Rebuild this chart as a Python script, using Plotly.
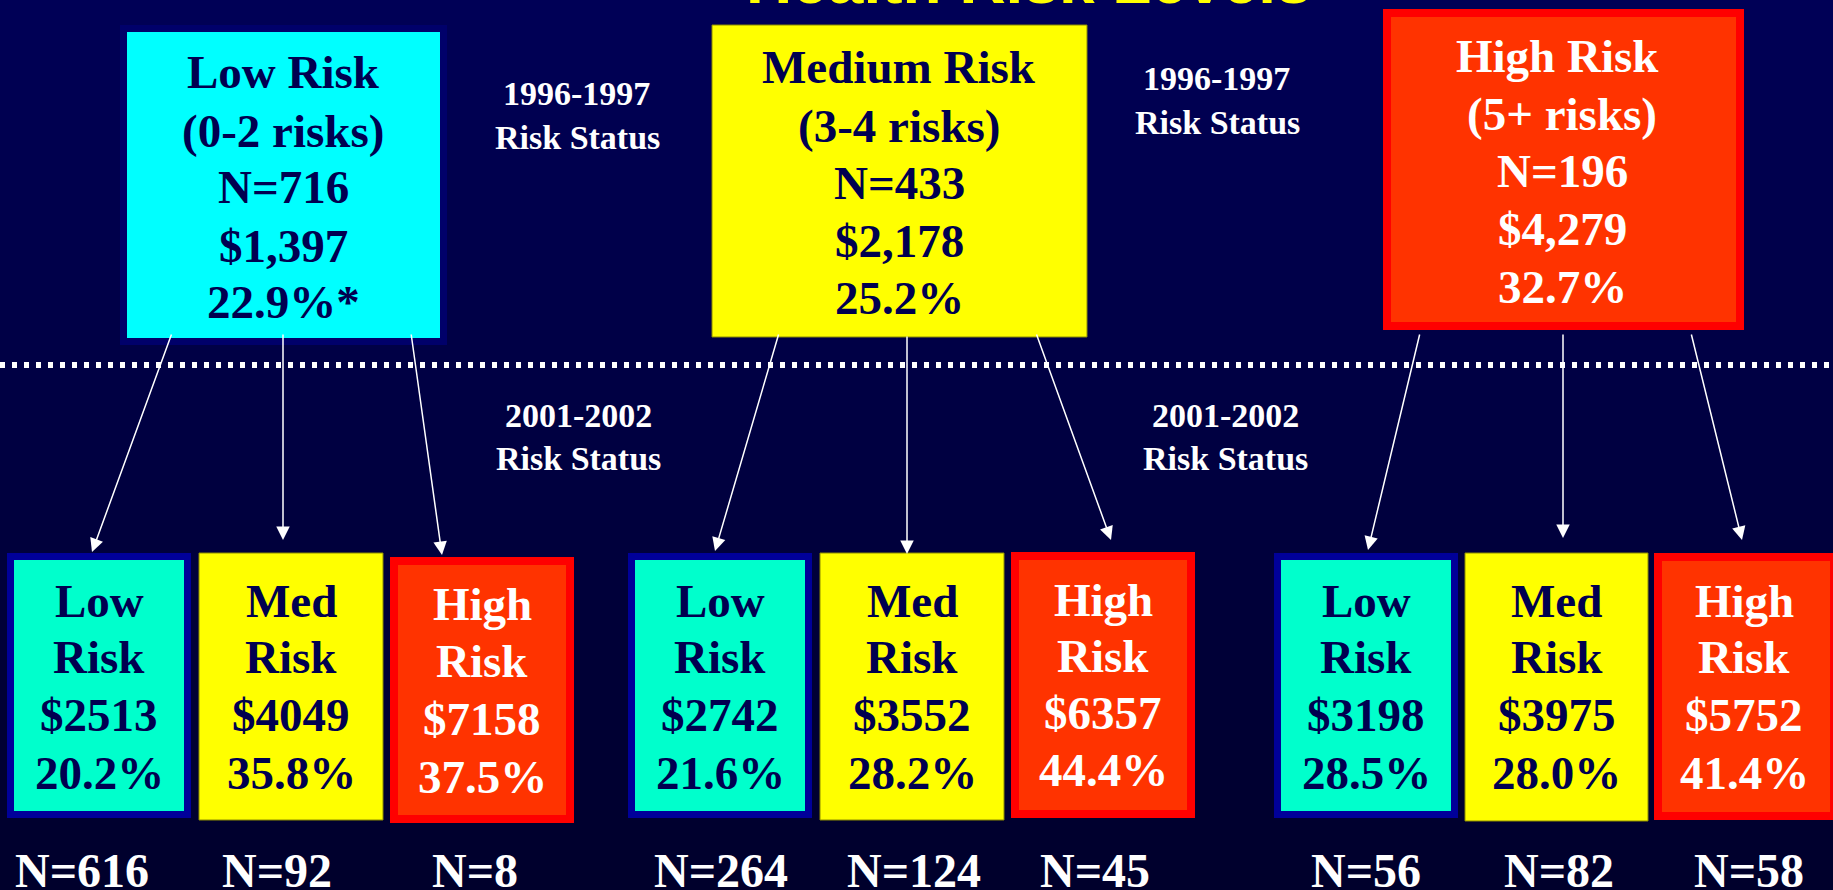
import plotly.graph_objects as go

# ---------------- data ----------------
title_text = "Health Risk Levels"
period_top = ["1996-1997", "Risk Status"]
period_bottom = ["2001-2002", "Risk Status"]

groups_1996 = ["Low Risk", "Medium Risk", "High Risk"]
ranges_1996 = ["(0-2 risks)", "(3-4 risks)", "(5+ risks)"]
n_1996 = [716, 433, 196]
cost_1996 = [1397, 2178, 4279]
pct_1996 = [22.9, 25.2, 32.7]
pct_1996_marks = ["*", "", ""]

sub_labels = [["Low", "Risk"], ["Med", "Risk"], ["High", "Risk"]]
cost_2001 = [[2513, 4049, 7158], [2742, 3552, 6357], [3198, 3975, 5752]]
pct_2001 = [[20.2, 35.8, 37.5], [21.6, 28.2, 44.4], [28.5, 28.0, 41.4]]
n_2001 = [[616, 92, 8], [264, 124, 45], [56, 82, 58]]

# ---------------- layout / style ----------------
W, H = 1833, 890
SERIF = "Liberation Serif, Times New Roman, serif"
SANS = "Liberation Sans, Arial, sans-serif"
NAVY_TXT = "#000050"

fig = go.Figure()
shapes = []
ann = []

# background gradient
top_rgb, bot_rgb = (0, 0, 0x56), (0, 0, 0x2C)
nb = 89
for i in range(nb):
    t = i / (nb - 1)
    c = tuple(round(top_rgb[k] + (bot_rgb[k] - top_rgb[k]) * t) for k in range(3))
    shapes.append(dict(type="rect", xref="x", yref="y", x0=0, x1=W,
                       y0=i * H / nb, y1=(i + 1) * H / nb + 0.5, line=dict(width=0),
                       fillcolor="rgb(%d,%d,%d)" % c, layer="below"))

def box(x0, x1, y0, y1, fill, border, bw):
    if bw >= 2:
        shapes.append(dict(type="rect", xref="x", yref="y", x0=x0, x1=x1, y0=y0, y1=y1,
                           line=dict(width=0), fillcolor=border, layer="below"))
        shapes.append(dict(type="rect", xref="x", yref="y", x0=x0 + bw, x1=x1 - bw,
                           y0=y0 + bw, y1=y1 - bw, line=dict(width=0), fillcolor=fill,
                           layer="below"))
    else:
        shapes.append(dict(type="rect", xref="x", yref="y", x0=x0, x1=x1, y0=y0, y1=y1,
                           line=dict(width=1, color=border), fillcolor=fill, layer="below"))

def txt(x, y, s, size, color, family=SERIF, anchor="middle"):
    ann.append(dict(x=x, y=y, xref="x", yref="y", text="<b>%s</b>" % s, showarrow=False,
                    font=dict(size=size, color=color, family=family),
                    xanchor="center", yanchor=anchor, borderpad=0))

def arrow(tail, tip):
    ann.append(dict(x=tip[0], y=tip[1], ax=tail[0], ay=tail[1], xref="x", yref="y",
                    axref="x", ayref="y", text="", showarrow=True, arrowhead=2,
                    arrowsize=1.8, arrowwidth=1.5, arrowcolor="white", standoff=0))

# styles per risk level
fills_top = ["#00FFFF", "#FFFF00", "#FF3300"]
fills_low = ["#00FFCC", "#FFFF00", "#FF3300"]
borders_top = ["#00006A", "#8C8C00", "#FF0000"]
borders_low = ["#000099", "#8C8C00", "#FF0000"]
bwidths = [7, 1, 8]
txt_colors = [NAVY_TXT, NAVY_TXT, "white"]

# title (mostly cut off at the top edge)
txt(1029, 17.6, title_text, 64, "#FFFF00", family=SANS, anchor="bottom")

# top boxes
top_geom = [(120, 447, 25, 345), (712, 1087, 25, 337), (1383, 1744, 9, 330)]
top_x = [283, 899, 1562]
top_ys = [[72, 131, 187, 246, 302], [67, 126, 183, 241, 298], [56, 114, 171, 229, 287]]
for i in range(3):
    x0, x1, y0, y1 = top_geom[i]
    box(x0, x1, y0, y1, fills_top[i], borders_top[i], bwidths[i])
    lines = [groups_1996[i], ranges_1996[i], "N=%d" % n_1996[i],
             "${:,}".format(cost_1996[i]), "%.1f%%%s" % (pct_1996[i], pct_1996_marks[i])]
    for s, y in zip(lines, top_ys[i]):
        txt(top_x[i] - (5 if (i == 2 and y == top_ys[i][0]) else 0), y, s, 47, txt_colors[i])

# period labels
for (x, y0) in [(576, 93), (1216, 78)]:
    txt(x, y0, period_top[0], 34, "white")
    txt(x + 1, y0 + 44, period_top[1], 34, "white")
for (x, y0) in [(578, 415), (1225, 415)]:
    txt(x, y0, period_bottom[0], 34, "white")
    txt(x, y0 + 43, period_bottom[1], 34, "white")

# dotted separator
shapes.append(dict(type="line", xref="x", yref="y", x0=0, x1=W, y0=365, y1=365,
                   line=dict(color="white", width=6, dash="5px,7px")))

# lower boxes
low_geom = [
    [(7, 191, 553, 818), (199, 383, 553, 820), (390, 574, 557, 823)],
    [(628, 812, 553, 818), (820, 1004, 553, 820), (1011, 1195, 552, 818)],
    [(1274, 1458, 553, 818), (1465, 1648, 553, 821), (1654, 1838, 553, 820)],
]
low_ys = [
    [[601, 657, 715, 773], [601, 657, 715, 773], [604, 661, 719, 777]],
    [[601, 657, 715, 773], [601, 657, 715, 773], [600, 656, 713, 770]],
    [[601, 657, 715, 773], [601, 657, 715, 773], [601, 657, 715, 773]],
]
n_x = [[82, 277, 475], [721, 914, 1095], [1366, 1559, 1749]]
for g in range(3):
    for k in range(3):
        x0, x1, y0, y1 = low_geom[g][k]
        box(x0, x1, y0, y1, fills_low[k], borders_low[k], bwidths[k])
        xc = (x0 + x1) / 2 if x1 <= W else (x0 + x1) / 2 - 2
        lines = sub_labels[k] + ["$%d" % cost_2001[g][k], "%.1f%%" % pct_2001[g][k]]
        for s, y in zip(lines, low_ys[g][k]):
            txt(xc, y, s, 47, txt_colors[k])
        txt(n_x[g][k], 870, "N=%d" % n_2001[g][k], 48, "white")

# arrows (tail on the 1996 box, tip at the 2001 box)
arrow_tails = [[(172, 333), (283, 333), (411, 333)],
               [(779, 333), (907, 335), (1036, 333)],
               [(1420, 333), (1563, 333), (1691, 333)]]
arrow_tips = [[(92, 552), (283, 540), (442, 555)],
              [(715, 551), (907, 554), (1111, 540)],
              [(1368, 550), (1563, 538), (1742, 540)]]
for g in range(3):
    for k in range(3):
        arrow(arrow_tails[g][k], arrow_tips[g][k])

fig.update_layout(
    width=W, height=H, margin=dict(l=0, r=0, t=0, b=0, pad=0),
    paper_bgcolor="#000040", plot_bgcolor="#000040",
    xaxis=dict(range=[0, W], visible=False, fixedrange=True),
    yaxis=dict(range=[H, 0], visible=False, fixedrange=True),
    shapes=shapes, annotations=ann, showlegend=False,
)

fig.write_html("out.html", config={"displayModeBar": False},
               post_script="document.body.style.margin='0';document.body.style.overflow='hidden';")
